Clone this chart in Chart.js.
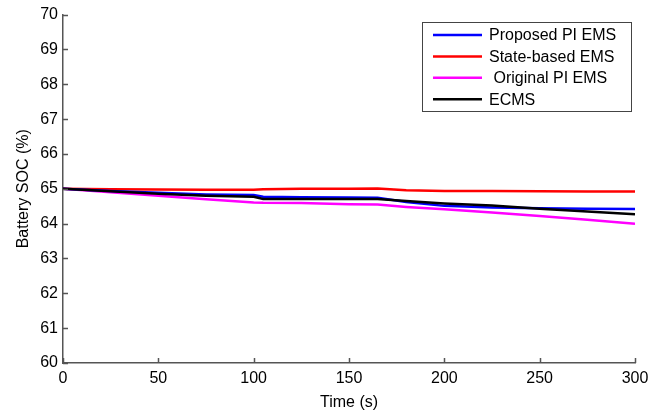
<!DOCTYPE html>
<html>
<head>
<meta charset="utf-8">
<script src="https://cdn.jsdelivr.net/npm/chart.js@4.4.1/dist/chart.umd.min.js"></script>
<style>
  html, body { margin: 0; padding: 0; background: #fff; }
  #wrap { width: 671px; height: 412px; }
</style>
</head>
<body>
<div id="wrap"><canvas id="soc-chart" width="671" height="412"></canvas></div>
<script>
// time samples (s)
var times = [0, 25, 50, 75, 100, 105, 125, 150, 165, 180, 200, 225, 250, 275, 300];

// battery SOC (%)
var proposedPI = [65.0, 64.94, 64.89, 64.84, 64.82, 64.77, 64.76, 64.75, 64.74, 64.62, 64.51, 64.46, 64.44, 64.43, 64.42];
var stateBased = [65.0, 64.99, 64.98, 64.97, 64.97, 64.99, 65.0, 65.0, 65.01, 64.96, 64.94, 64.94, 64.93, 64.92, 64.92];
var originalPI = [65.0, 64.9, 64.8, 64.7, 64.61, 64.6, 64.59, 64.56, 64.55, 64.48, 64.41, 64.32, 64.22, 64.11, 64.0];
var ecms = [65.0, 64.93, 64.86, 64.8, 64.77, 64.71, 64.71, 64.71, 64.71, 64.65, 64.58, 64.52, 64.43, 64.35, 64.27];

var seriesLabels = ['Proposed PI EMS', 'State-based EMS', ' Original PI EMS', 'ECMS'];
var seriesColors = ['#0000ff', '#ff0000', '#ff00ff', '#000000'];
var seriesValues = [proposedPI, stateBased, originalPI, ecms];

var xTicks = [0, 50, 100, 150, 200, 250, 300];
var yTicks = [60, 61, 62, 63, 64, 65, 66, 67, 68, 69, 70];

var font = '"Liberation Sans", Arial, sans-serif';
var fontSize = 16;
var axisColor = '#555555';

function toPoints(values) {
    return values.map(function(v, i) { return {x: times[i], y: v}; });
}

//inward tick marks, drawn from the scales
var innerTicks = {
    id: 'innerTicks',
    afterDraw: function(chart) {
        var ctx = chart.ctx;
        var area = chart.chartArea;
        var xs = chart.scales.x, ys = chart.scales.y;
        ctx.save();
        ctx.strokeStyle = axisColor;
        ctx.lineWidth = 1.5;
        ctx.beginPath();
        xTicks.forEach(function(t) {
            var px = Math.round(xs.getPixelForValue(t)) + 0.5;
            ctx.moveTo(px, area.bottom);
            ctx.lineTo(px, area.bottom - 5);
        });
        yTicks.forEach(function(t) {
            var py = Math.round(ys.getPixelForValue(t)) + 0.5;
            ctx.moveTo(area.left, py);
            ctx.lineTo(area.left + 5, py);
        });
        ctx.stroke();
        ctx.restore();
    }
};

//legend box in the top right corner
var boxLegend = {
    id: 'boxLegend',
    afterDraw: function(chart) {
        var ctx = chart.ctx;
        var left = 422.5, top = 22.5, w = 209, h = 89;
        ctx.save();
        ctx.fillStyle = '#fff';
        ctx.fillRect(left, top, w, h);
        ctx.strokeStyle = '#444';
        ctx.lineWidth = 1;
        ctx.strokeRect(left, top, w, h);
        ctx.font = fontSize + 'px ' + font;
        ctx.textBaseline = 'middle';
        seriesLabels.forEach(function(label, i) {
            var y = 35 + i * 21.4;
            ctx.strokeStyle = seriesColors[i];
            ctx.lineWidth = 2.5;
            ctx.beginPath();
            ctx.moveTo(433, y);
            ctx.lineTo(482, y);
            ctx.stroke();
            ctx.fillStyle = '#000';
            ctx.fillText(label, 489, y + 1);
        });
        ctx.restore();
    }
};

var ctx = document.getElementById('soc-chart').getContext('2d');
var chart = new Chart(ctx, {
    type: 'line',
    data: {
        datasets: seriesValues.map(function(values, i) {
            return {
                label: seriesLabels[i],
                data: toPoints(values),
                borderColor: seriesColors[i],
                borderWidth: 2.5,
                pointRadius: 0,
                tension: 0,
                fill: false,
                order: i === 3 ? 0 : 1
            };
        })
    },
    options: {
        responsive: false,
        animation: false,
        events: [],
        layout: {padding: {left: 14, right: 36, top: 14, bottom: 0}},
        plugins: {
            legend: {display: false},
            tooltip: {enabled: false}
        },
        scales: {
            x: {
                type: 'linear',
                min: 0,
                max: 300,
                afterFit: function(scale) { scale.height = 49; },
                afterBuildTicks: function(scale) {
                    scale.ticks = xTicks.map(function(v) { return {value: v}; });
                },
                grid: {display: false, drawTicks: false},
                border: {display: true, color: axisColor, width: 1.5},
                ticks: {
                    color: '#000',
                    padding: 6,
                    maxRotation: 0,
                    font: {family: font, size: fontSize}
                },
                title: {
                    display: true,
                    text: 'Time (s)',
                    color: '#000',
                    padding: {top: 0, bottom: 0},
                    font: {family: font, size: fontSize}
                }
            },
            y: {
                min: 60,
                max: 70,
                afterFit: function(scale) { scale.width = 49; },
                afterBuildTicks: function(scale) {
                    scale.ticks = yTicks.map(function(v) { return {value: v}; });
                },
                grid: {display: false, drawTicks: false},
                border: {display: true, color: axisColor, width: 1.5},
                ticks: {
                    color: '#000',
                    padding: 5,
                    font: {family: font, size: fontSize}
                },
                title: {
                    display: true,
                    text: 'Battery SOC (%)',
                    color: '#000',
                    padding: {top: 0, bottom: 4},
                    font: {family: font, size: fontSize}
                }
            }
        }
    },
    plugins: [innerTicks, boxLegend]
});
</script>
</body>
</html>
